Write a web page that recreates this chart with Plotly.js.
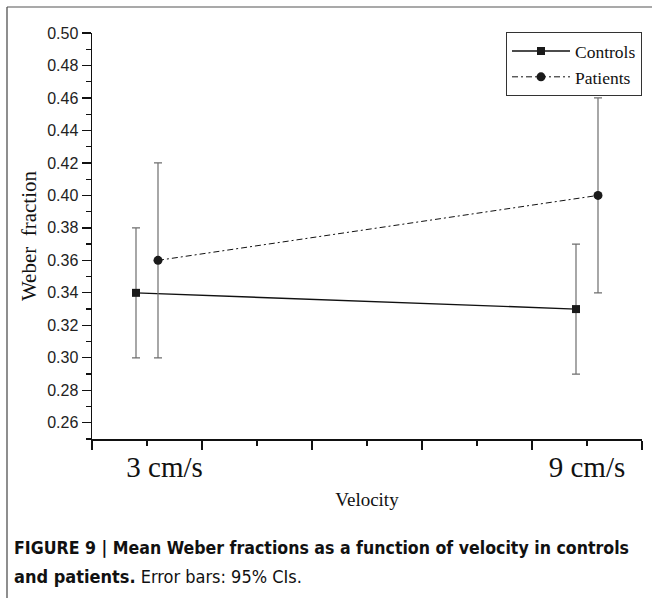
<!DOCTYPE html>
<html>
<head>
<meta charset="utf-8">
<script src="https://cdn.plot.ly/plotly-3.0.1.min.js"></script>
<style>
  html, body { margin: 0; padding: 0; background: #fff; }
  #chart { width: 652px; height: 598px; }
</style>
</head>
<body>
<div id="chart"></div>
<script>
// ---- data ----
const velocityLabels = ['3 cm/s', '9 cm/s'];
const velocityLabelPos = [0.66, 4.5];
const xControls = [0.4, 4.4];
const xPatients = [0.6, 4.6];
const controlsMean = [0.34, 0.33];
const controlsCI = [0.04, 0.04];
const patientsMean = [0.36, 0.40];
const patientsCI = [0.06, 0.06];
const yTickVals = [0.26, 0.28, 0.30, 0.32, 0.34, 0.36, 0.38, 0.40, 0.42, 0.44, 0.46, 0.48, 0.50];
const xMajorTicks = [0, 1, 2, 3, 4, 5];
const captionLines = [
  '<b>FIGURE 9 | Mean Weber fractions as a function of velocity in controls</b>',
  '<b>and patients.</b> Error bars: 95% CIs.'
];

const serif = 'Liberation Serif, Times New Roman, serif';
const sans = 'Liberation Sans, Arial, sans-serif';
const capFont = 'DejaVu Sans, Liberation Sans, sans-serif';

const traces = [
  {
    name: 'Controls',
    x: xControls, y: controlsMean,
    type: 'scatter', mode: 'lines+markers',
    line: {color: '#111', width: 1.4},
    marker: {symbol: 'square', size: 8, color: '#1a1a1a'},
    error_y: {type: 'data', array: controlsCI, visible: true, color: '#6e6e6e', thickness: 1.2, width: 4}
  },
  {
    name: 'Patients',
    x: xPatients, y: patientsMean,
    type: 'scatter', mode: 'lines+markers',
    line: {color: '#111', width: 1, dash: '6px,3px,2px,3px'},
    marker: {symbol: 'circle', size: 9, color: '#1a1a1a'},
    error_y: {type: 'data', array: patientsCI, visible: true, color: '#6e6e6e', thickness: 1.2, width: 4}
  },
  {
    // invisible carrier for the tick-mark axis
    x: xControls, y: controlsMean, xaxis: 'x2',
    type: 'scatter', mode: 'markers', marker: {opacity: 0},
    showlegend: false, hoverinfo: 'skip'
  }
];

function px2paperX(p) { return (p - 92) / 550; }
function px2paperY(p) { return (439 - p) / 406; }

const layout = {
  width: 652, height: 598,
  margin: {l: 92, r: 10, t: 33, b: 159},
  paper_bgcolor: '#fff', plot_bgcolor: '#fff',
  showlegend: true,
  xaxis: {
    range: [0, 5],
    tickvals: velocityLabelPos, ticktext: velocityLabels,
    ticks: 'outside', ticklen: 2, tickcolor: 'rgba(0,0,0,0)',
    tickfont: {family: serif, size: 29, color: '#111'},
    showline: false, showgrid: false, zeroline: false,
    title: {text: 'Velocity', font: {family: serif, size: 19, color: '#111'}, standoff: 10},
    automargin: false
  },
  xaxis2: {
    range: [0, 5], overlaying: 'x', anchor: 'y', side: 'bottom',
    tickvals: xMajorTicks, showticklabels: false,
    ticks: 'outside', ticklen: 9, tickwidth: 1.3, tickcolor: '#111',
    minor: {dtick: 0.5, tick0: 0, ticks: 'outside', ticklen: 5, tickwidth: 1.3, tickcolor: '#111'},
    showline: true, linecolor: '#111', linewidth: 1.5,
    showgrid: false, zeroline: false
  },
  yaxis: {
    range: [0.25, 0.50],
    tickvals: yTickVals, tickformat: '.2f',
    ticks: 'outside', ticklen: 9, tickwidth: 1.3, tickcolor: '#111',
    minor: {dtick: 0.01, tick0: 0.25, ticks: 'outside', ticklen: 5, tickwidth: 1.3, tickcolor: '#111'},
    tickfont: {family: sans, size: 16, color: '#222'},
    showline: true, linecolor: '#111', linewidth: 1.5,
    showgrid: false, zeroline: false,
    title: {text: 'Weber  fraction', font: {family: serif, size: 21, color: '#111'}, standoff: 5},
    automargin: false
  },
  legend: {
    x: 1, xanchor: 'right', y: 1.002, yanchor: 'top',
    bgcolor: '#fff', bordercolor: '#333', borderwidth: 1,
    font: {family: serif, size: 17.5, color: '#111'},
    itemwidth: 58, tracegroupgap: 0
  },
  shapes: [
    {type: 'line', xref: 'paper', yref: 'paper', x0: px2paperX(7), x1: px2paperX(7), y0: px2paperY(7), y1: px2paperY(600),
     line: {color: '#444', width: 1.2}},
    {type: 'line', xref: 'paper', yref: 'paper', x0: px2paperX(7), x1: px2paperX(654), y0: px2paperY(7), y1: px2paperY(7),
     line: {color: '#555', width: 1.2}}
  ],
  annotations: [
    {xref: 'paper', yref: 'paper', x: px2paperX(12), y: px2paperY(547), xanchor: 'left', yanchor: 'middle',
     showarrow: false, align: 'left', text: captionLines[0],
     font: {family: capFont, size: 18, color: '#111'}},
    {xref: 'paper', yref: 'paper', x: px2paperX(12), y: px2paperY(576), xanchor: 'left', yanchor: 'middle',
     showarrow: false, align: 'left', text: captionLines[1],
     font: {family: capFont, size: 18, color: '#111'}}
  ]
};

const captionWidths = [615, 298];

Plotly.newPlot('chart', traces, layout, {displayModeBar: false, staticPlot: true}).then(function (gd) {
  // condense the caption text (the original uses a condensed face)
  const texts = gd.querySelectorAll('.annotation-text');
  texts.forEach(function (t, i) {
    t.style.fontStretch = 'condensed';
    const w = t.getComputedTextLength();
    if (captionWidths[i] && w > captionWidths[i]) {
      t.setAttribute('textLength', captionWidths[i]);
      t.setAttribute('lengthAdjust', 'spacingAndGlyphs');
    }
  });
});
</script>
</body>
</html>
